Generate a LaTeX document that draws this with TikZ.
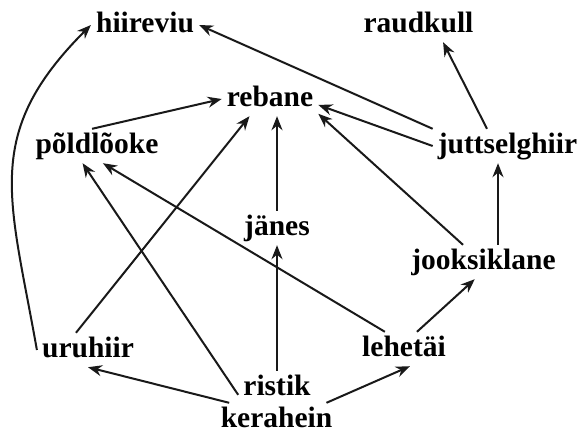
\documentclass[tikz,border=0pt]{standalone}
\usepackage{fontspec}
\setmainfont{Liberation Serif}
\usetikzlibrary{arrows.meta}

\begin{document}
\begin{tikzpicture}[x=1pt, y=-1pt]
  \tikzstyle{animal}=[anchor=base, inner xsep=5pt, inner ysep=5pt, text height=19pt, text depth=5pt,
    font=\fontsize{29.5}{32}\selectfont\bfseries]
  \tikzstyle{eats}=[-{Stealth[length=14pt, width=11pt]}, line width=2pt, draw=black!90]

  \useasboundingbox (0,0) rectangle (580,434);

  \node[animal] (hiireviu)     at (145,   32)  {hiireviu};
  \node[animal] (raudkull)     at (418.5, 32)  {raudkull};
  \node[animal] (rebane)       at (270,   106) {rebane};
  \node[animal] (poldlooke)    at (97,    153) {põldlõoke};
  \node[animal] (juttselghiir) at (507.5, 153) {juttselghiir};
  \node[animal] (janes)        at (277,   235) {jänes};
  \node[animal] (jooksiklane)  at (483.5, 269) {jooksiklane};
  \node[animal] (uruhiir)      at (88,    357) {uruhiir};
  \node[animal] (lehetai)      at (404,   356) {lehetäi};
  \node[animal] (ristik)       at (277,   395) {ristik};
  \node[animal] (kerahein)     at (276.5, 427) {kerahein};

  \path (uruhiir.west) edge[eats, out=100, in=-135, looseness=1.2] (hiireviu.west);
  \path (juttselghiir.north west) edge[eats] (hiireviu.east);
  \path (juttselghiir.140) edge[eats] (raudkull.-35);
  \path (juttselghiir.west) edge[eats] (rebane.-7);
  \path (jooksiklane.140) edge[eats] (rebane.-17);
  \path ([xshift=14.5pt]jooksiklane.north) edge[eats] ([xshift=-9.5pt]juttselghiir.south);
  \path (poldlooke.106) edge[eats] (rebane.west);
  \path (uruhiir.125) edge[eats] (rebane.-140);
  \path (janes.north) edge[eats] ([xshift=7pt]rebane.south);
  \path (ristik.north) edge[eats] (janes.south);
  \path (ristik.-170) edge[eats] (poldlooke.-130);
  \path (lehetai.138) edge[eats] (poldlooke.-71);
  \path (kerahein.160) edge[eats] (uruhiir.south);
  \path (kerahein.19) edge[eats] (lehetai.-71);
  \path (lehetai.53) edge[eats] (jooksiklane.-117);
\end{tikzpicture}
\end{document}
